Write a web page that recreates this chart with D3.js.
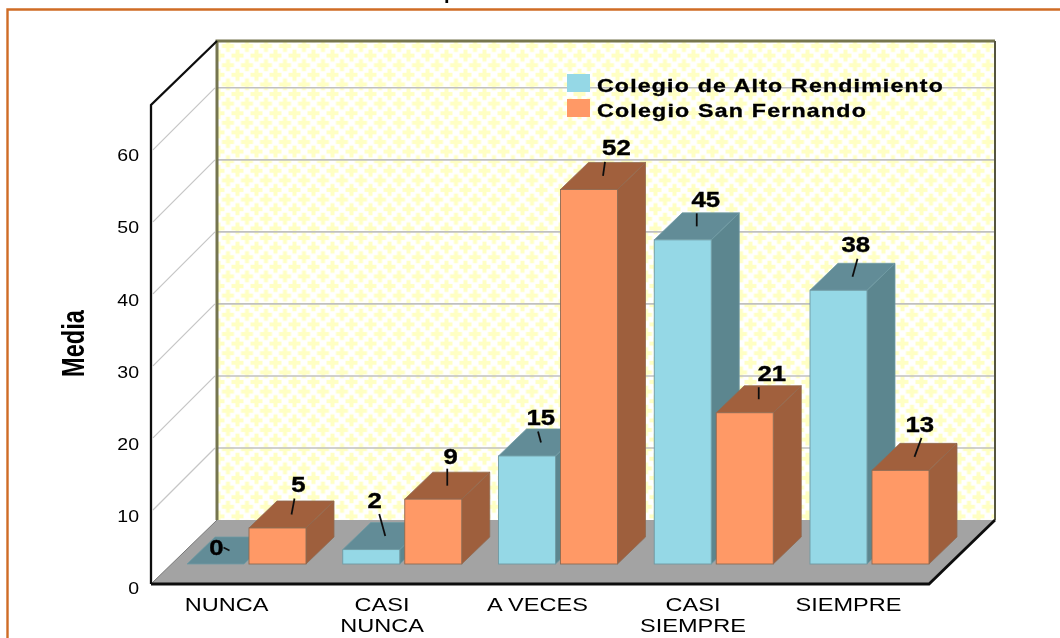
<!DOCTYPE html>
<html>
<head>
<meta charset="utf-8">
<script src="https://cdn.jsdelivr.net/npm/d3@7/dist/d3.min.js"></script>
<style>
html,body{margin:0;padding:0;background:#fff;overflow:hidden}
svg{display:block}
text{font-family:"Liberation Sans",Arial,sans-serif;fill:#000}
</style>
</head>
<body>
<div id="chart"></div>
<script>
const categories = ["NUNCA", "CASI NUNCA", "A VECES", "CASI SIEMPRE", "SIEMPRE"];
const seriesNames = ["Colegio de Alto Rendimiento", "Colegio San Fernando"];
const altoRendimiento = [0, 2, 15, 45, 38];
const sanFernando = [5, 9, 52, 21, 13];
const yTicks = [0, 10, 20, 30, 40, 50, 60];
const axisMax = 66.5;

// leader-line ends and label offsets, relative to the centre of each bar's top face
const leaderOffsets = [[[-6,-3],[3,-16]],[[-6,-22],[0,-17]],[[-3,-11],[2,-14]],[[0,-13],[0,-12]],[[5,-18],[7,-19]]];
const labelOffsets  = [[[-13,-4.5],[6.8,-30.5]],[[-10.6,-36.5],[3.4,-30.5]],[[-0.3,-25.5],[13.4,-29.5]],[[9,-28],[13,-26.5]],[[3.3,-33.5],[5.3,-33]]];

const W = 1060, H = 638;
const floorY = 584, wallLeft = 151, wallRight = 995, floorFrontRight = 931;
const depth = 66, depthY = 64;
const barInset = 20, barDepth = 28, barDepthY = 27;

const colors = {
  blue:  {front:"#95d8e6", side:"#5c868f", top:"#628c97", edge:"#6f9aa3"},
  orange:{front:"#ff9966", side:"#9e5f3d", top:"#a1603d", edge:"#8f6a52"}
};
const seriesColors = [colors.blue, colors.orange];

const y = d3.scaleLinear().domain([0, axisMax]).range([floorY, 105]);
const x0 = d3.scalePoint().domain(categories).range([187, 810]);
const x1 = d3.scaleBand().domain(seriesNames).range([0, 119]).paddingInner(5/62).paddingOuter(0);
const xLabel = d3.scalePoint().domain(categories).range([226, 848]);

const wallTop = y(axisMax) - depthY, wallBottom = floorY - depthY, wallX = wallLeft + depth;

const svg = d3.select("#chart").append("svg").attr("width", W).attr("height", H);
const defs = svg.append("defs");
const pat = defs.append("pattern").attr("id","wallPat").attr("patternUnits","userSpaceOnUse")
  .attr("width",19).attr("height",19.2).attr("patternTransform","translate(218.5,36.4)");
pat.append("rect").attr("width",19).attr("height",19.2).attr("fill","#ffffff");
const crossAt = (cx,cy)=>{
  pat.append("rect").attr("x",cx-6).attr("y",cy-2).attr("width",12).attr("height",4).attr("fill","#ffffc4");
  pat.append("rect").attr("x",cx-2).attr("y",cy-6).attr("width",4).attr("height",12).attr("fill","#ffffc4");
};
[[9.5,9.6],[0,0],[19,0],[0,19.2],[19,19.2]].forEach(c=>crossAt(c[0],c[1]));
defs.append("filter").attr("id","soft").attr("x","0").attr("y","0").attr("width","1").attr("height","1")
  .attr("filterUnits","objectBoundingBox")
  .append("feGaussianBlur").attr("stdDeviation",0.45);

const root = svg.append("g").attr("filter","url(#soft)");
root.append("rect").attr("width",W).attr("height",H).attr("fill","#fff");

// clipped title remnant
root.append("text").attr("x",444).attr("y",-1).attr("font-size",20).attr("font-weight","bold").text("p");

// frame
root.append("path").attr("d",`M7.5,${H} V9.5 H${W}`).attr("fill","none").attr("stroke","#cf6c25").attr("stroke-width",2.4);

const poly = pts => pts.map(p=>p.join(",")).join(" ");

// left wall
root.append("polygon").attr("points",poly([[wallLeft,y(axisMax)],[wallX,wallTop],[wallX,wallBottom],[wallLeft,floorY]])).attr("fill","#fff");
// back wall
root.append("rect").attr("x",wallX).attr("y",wallTop).attr("width",wallRight-wallX).attr("height",wallBottom-wallTop).attr("fill","url(#wallPat)");

// grid
const gridTicks = yTicks.filter(t=>t>0);
root.append("g").selectAll("line").data(gridTicks).join("line")
  .attr("x1",wallLeft+2).attr("x2",wallX-2)
  .attr("y1",d=>y(d)-2).attr("y2",d=>y(d)-depthY)
  .attr("stroke","#c6c6c6").attr("stroke-width",1.2);
root.append("g").selectAll("line").data(gridTicks).join("line")
  .attr("x1",wallX).attr("x2",wallRight)
  .attr("y1",d=>y(d)-depthY).attr("y2",d=>y(d)-depthY)
  .attr("stroke","#c0c0c0").attr("stroke-width",1.6);

// wall borders
root.append("path").attr("d",`M${wallX},${wallBottom} V${wallTop} H${wallRight}`)
  .attr("fill","none").attr("stroke","#74744f").attr("stroke-width",3);
root.append("path").attr("d",`M${wallRight},${wallTop} V${wallBottom}`)
  .attr("fill","none").attr("stroke","#55553f").attr("stroke-width",2);

// floor
root.append("polygon").attr("points",poly([[wallLeft,floorY],[floorFrontRight-2,floorY],[wallRight,wallBottom],[wallX,wallBottom]])).attr("fill","#a3a3a3");

// axis edges
root.append("path").attr("d",`M${wallLeft},${floorY} V${y(axisMax)} L${wallX},${wallTop}`)
  .attr("fill","none").attr("stroke","#111").attr("stroke-width",2.3);
root.append("line").attr("x1",wallLeft).attr("y1",floorY).attr("x2",wallX).attr("y2",wallBottom).attr("stroke","#777").attr("stroke-width",1);
root.append("path").attr("d",`M${wallLeft},${floorY} H${floorFrontRight-2} L${wallRight},${wallBottom}`)
  .attr("fill","none").attr("stroke","#111").attr("stroke-width",2.8);

// bars
const barData = [];
categories.forEach((c,i)=>{
  [altoRendimiento, sanFernando].forEach((arr,s)=>{
    barData.push({cat:c, i, s, value:arr[i], series:seriesNames[s]});
  });
});
const bw = x1.bandwidth();
const bars = root.append("g").selectAll("g").data(barData).join("g");
bars.each(function(d){
  const g = d3.select(this), col = seriesColors[d.s];
  const xl = x0(d.cat)+x1(d.series), xr = xl+bw;
  const yb = y(0)-barInset, yt = y(d.value)-barInset;
  d.topCx = xl+bw/2+barDepth/2; d.topCy = yt-barDepthY/2;
  if (d.value>0) {
    g.append("polygon").attr("points",poly([[xr,yb],[xr+barDepth,yb-barDepthY],[xr+barDepth,yt-barDepthY],[xr,yt]]))
      .attr("fill",col.side).attr("stroke",col.edge).attr("stroke-width",0.8);
  }
  g.append("polygon").attr("points",poly([[xl,yt],[xl+barDepth,yt-barDepthY],[xr+barDepth,yt-barDepthY],[xr,yt]]))
    .attr("fill",col.top).attr("stroke",col.edge).attr("stroke-width",0.8);
  if (d.value>0) {
    g.append("rect").attr("x",xl).attr("y",yt).attr("width",bw).attr("height",yb-yt)
      .attr("fill",col.front).attr("stroke",col.edge).attr("stroke-width",0.9);
  }
});

// leaders and value labels
const labels = root.append("g");
barData.forEach(d=>{
  const lo = leaderOffsets[d.i][d.s], to = labelOffsets[d.i][d.s];
  labels.append("line").attr("x1",d.topCx).attr("y1",d.topCy)
    .attr("x2",d.topCx+lo[0]).attr("y2",d.topCy+lo[1])
    .attr("stroke","#111").attr("stroke-width",1.8);
  labels.append("text")
    .attr("transform",`translate(${d.topCx+to[0]},${d.topCy+to[1]+8.5}) scale(1.12,1)`)
    .attr("text-anchor","middle").attr("font-size",23).attr("font-weight","bold")
    .attr("stroke","#000").attr("stroke-width",0.4)
    .text(d.value);
});

// y axis labels
const yAxis = root.append("g").attr("transform",`translate(139,4)`)
  .call(d3.axisLeft(y).tickValues(yTicks).tickSize(0).tickPadding(0).tickFormat(d3.format("d")));
yAxis.select(".domain").remove();
yAxis.selectAll("text").attr("x",0).attr("font-size",16).attr("fill","#222")
  .attr("font-family",'"Liberation Sans",Arial,sans-serif')
  .attr("transform","scale(1.22,1)");

// x axis labels
const xAxis = root.append("g").attr("transform",`translate(0,597)`)
  .call(d3.axisBottom(xLabel).tickSize(0).tickPadding(0));
xAxis.select(".domain").remove();
xAxis.selectAll("text").each(function(d){
  const t = d3.select(this).text("").attr("y",0).attr("dy",null)
    .attr("font-size",19).attr("fill","#222").attr("text-anchor","middle")
    .attr("font-family",'"Liberation Sans",Arial,sans-serif')
    .attr("transform","scale(1.24,1)");
  const lines = d.startsWith("CASI ") ? d.split(" ") : [d];
  lines.forEach((ln,k)=> t.append("tspan").attr("x",0).attr("y",14+k*21).text(ln));
});

// y title
root.append("text").attr("transform","translate(84,343.5) rotate(-90)")
  .attr("text-anchor","middle").attr("font-size",31).attr("font-weight","bold")
  .attr("textLength",67).attr("lengthAdjust","spacingAndGlyphs").text("Media");

// legend
const legend = root.append("g").selectAll("g").data(seriesNames).join("g");
legend.append("rect").attr("x",567).attr("y",(d,i)=>74+i*25).attr("width",23).attr("height",18)
  .attr("fill",(d,i)=>seriesColors[i].front);
legend.append("text").attr("x",597).attr("y",(d,i)=>91.5+i*25.5)
  .attr("font-size",19).attr("font-weight","bold").attr("letter-spacing",1)
  .attr("stroke","#000").attr("stroke-width",0.35)
  .attr("textLength",(d,i)=>[347,270][i]).attr("lengthAdjust","spacingAndGlyphs").text(d=>d);
</script>
</body>
</html>
